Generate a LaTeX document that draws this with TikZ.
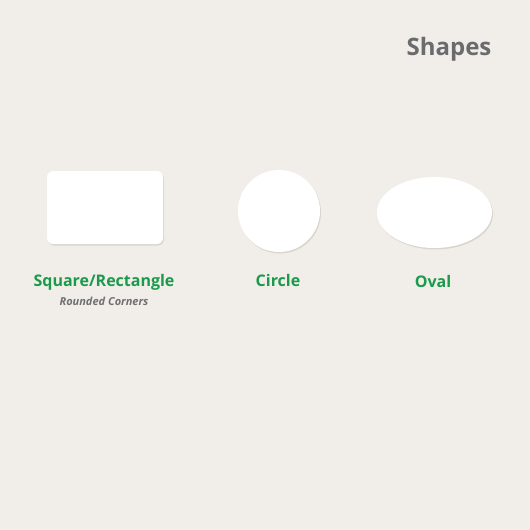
\documentclass[tikz,border=0pt]{standalone}
\usepackage{fontspec}
\setmainfont{Open Sans}
\usetikzlibrary{shadows,shapes.geometric}
\definecolor{bg}{HTML}{F1EEEA}
\definecolor{lbl}{HTML}{1B9A4B}
\definecolor{ttl}{HTML}{6B6B6D}
\definecolor{sub}{HTML}{707070}
\definecolor{shd}{HTML}{D9D3CA}
\tikzset{
  shapebox/.style={fill=white, draw=none, drop shadow={shadow xshift=1pt, shadow yshift=-1.5pt, fill=shd, opacity=0.9}},
  lab/.style={text=lbl, font=\fontsize{16}{19}\selectfont\bfseries, anchor=center},
  sublab/.style={text=sub, font=\fontsize{11}{13}\selectfont\itshape\bfseries, anchor=center},
}
\begin{document}
\begin{tikzpicture}[x=1pt,y=-1pt]
\fill[bg] (0,0) rectangle (530,530);
\useasboundingbox (0,0) rectangle (530,530);
\node[text=ttl, font=\fontsize{24}{28}\selectfont\bfseries, anchor=center] (title) at (449,49) {Shapes};
\node[shapebox, rectangle, rounded corners=6pt, minimum width=116pt, minimum height=73pt] (rect) at (105,207.5) {};
\node[shapebox, circle, minimum size=82pt] (circ) at (279,211) {};
\node[shapebox, ellipse, minimum width=115pt, minimum height=71pt, inner sep=0pt] (oval) at (434.5,212.5) {};
\node[lab] (rectlab) at (104,282) {Square/Rectangle};
\node[sublab] (rectsub) at (104,301) {Rounded Corners};
\node[lab] (circlab) at (278,280.5) {Circle};
\node[lab] (ovallab) at (433,281) {Oval};
\end{tikzpicture}
\end{document}
